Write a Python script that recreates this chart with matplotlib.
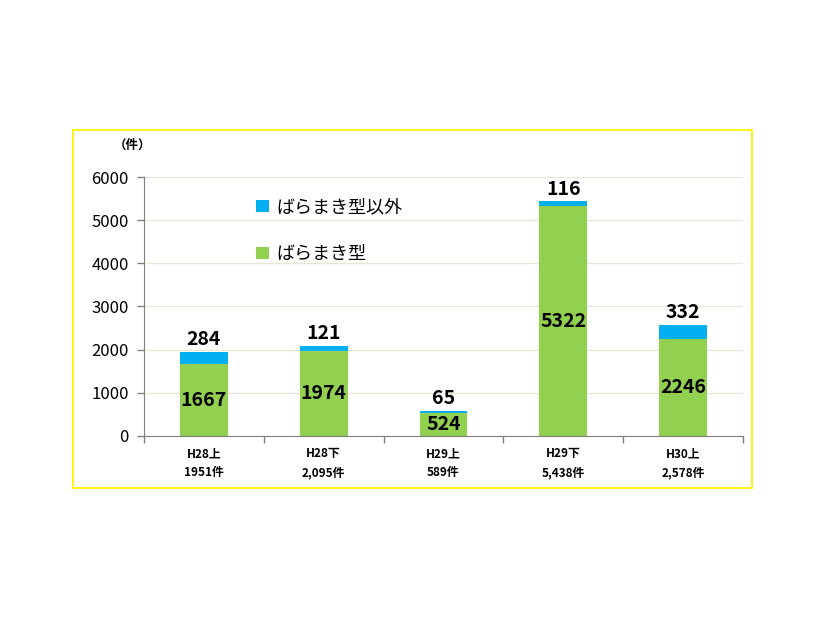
import matplotlib
matplotlib.use("Agg")
import matplotlib.pyplot as plt
from matplotlib.patches import Rectangle
import numpy as np

plt.rcParams['font.family'] = ['Noto Sans CJK JP', 'DejaVu Sans']

categories = ["H28上\n1951件", "H28下\n2,095件", "H29上\n589件", "H29下\n5,438件", "H30上\n2,578件"]
baramaki = [1667, 1974, 524, 5322, 2246]
other = [284, 121, 65, 116, 332]
yticks = [0, 1000, 2000, 3000, 4000, 5000, 6000]

blue = "#00B0F0"
green = "#92D050"

fig = plt.figure(figsize=(8.26, 6.20), dpi=100)
fig.patch.set_facecolor("white")

# yellow frame
fig.patches.append(Rectangle((0.0884, 0.2129), 0.822, 0.5774, transform=fig.transFigure,
                             fill=False, edgecolor="#FFF200", linewidth=1.3, zorder=0))

ax = fig.add_axes([0.1743, 0.2968, 0.7252, 0.4177])
x = np.arange(len(categories))
w = 0.4
b1 = ax.bar(x, baramaki, w, color=green, label="ばらまき型", zorder=2)
b2 = ax.bar(x, other, w, bottom=baramaki, color=blue, label="ばらまき型以外", zorder=2)

for xi, g, o in zip(x, baramaki, other):
    ax.text(xi, g / 2, f"{g}", ha="center", va="center", fontsize=14, fontweight="bold", color="black")
    ax.text(xi, g + o + 60, f"{o}", ha="center", va="bottom", fontsize=14, fontweight="bold", color="black")

ax.set_xlim(-0.5, len(categories) - 0.5)
ax.set_ylim(0, 6000)
ax.set_yticks(yticks)
ax.set_yticklabels([str(t) for t in yticks], fontsize=12)
ax.set_xticks(x)
ax.set_xticklabels(categories, fontsize=8.5, fontweight="bold", linespacing=1.6)
ax.set_xticks(np.arange(-0.5, len(categories)), minor=True)
ax.tick_params(axis="x", which="major", length=0, pad=8)
ax.tick_params(axis="x", which="minor", length=5, color="#808080", width=1)
ax.tick_params(axis="y", length=5, color="#808080", width=1, pad=6)

ax.grid(axis="y", color="#E8E6D6", linewidth=1, zorder=0)
ax.set_axisbelow(True)
for s in ["top", "right"]:
    ax.spines[s].set_visible(False)
ax.spines["left"].set_color("#808080")
ax.spines["bottom"].set_color("#808080")

# legend
handles = [b2, b1]
leg = ax.legend(handles, ["ばらまき型以外", "ばらまき型"], loc="upper left",
                bbox_to_anchor=(0.16, 0.98), frameon=False, fontsize=13,
                handlelength=0.7, handleheight=0.7, handletextpad=0.4, labelspacing=1.6)

fig.text(0.161, 0.765, "（件）", fontsize=9, fontweight="bold", ha="center", va="center")

fig.savefig("out.png", dpi=100)
